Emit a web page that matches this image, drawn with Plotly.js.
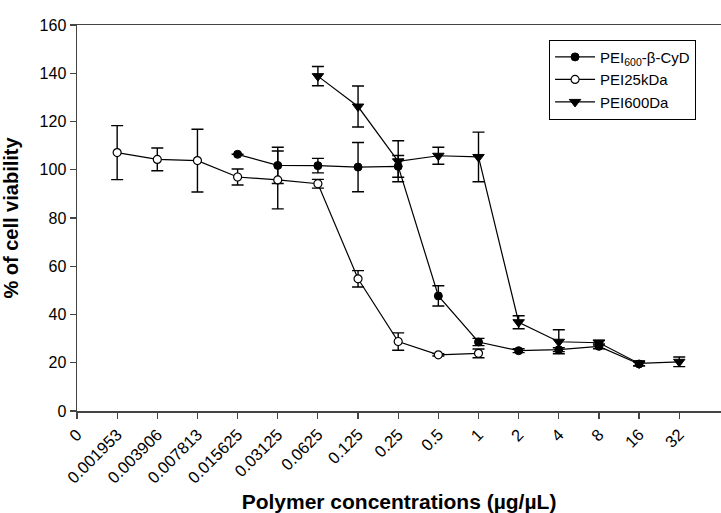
<!DOCTYPE html>
<html>
<head>
<meta charset="utf-8">
<script src="https://cdn.plot.ly/plotly-3.0.1.min.js"></script>
<style>html,body{margin:0;padding:0;background:#fff}#chart{width:721px;height:513px}</style>
</head>
<body>
<div id="chart"></div>
<script>
// Category tick labels (µg/µL)
var categories = ["0","0.001953","0.003906","0.007813","0.015625","0.03125","0.0625","0.125","0.25","0.5","1","2","4","8","16","32"];

// PEI600-β-CyD
var cydX   = ["0.015625","0.03125","0.0625","0.125","0.25","0.5","1","2","4","8","16"];
var cydY   = [106.4, 101.8, 101.7, 101.1, 101.4, 47.7, 28.6, 25.0, 25.4, 26.8, 19.5];
var cydErr = [0, 7.5, 3, 10.2, 4.5, 4.2, 1.5, 0.8, 0.8, 1, 0.8];

// PEI25kDa
var p25X   = ["0.001953","0.003906","0.007813","0.015625","0.03125","0.0625","0.125","0.25","0.5","1"];
var p25Y   = [107.1, 104.3, 103.8, 97.0, 95.8, 94.2, 54.8, 28.8, 23.3, 23.9];
var p25Err = [11.2, 4.7, 13.0, 3.3, 12.0, 1.8, 3.4, 3.6, 0.5, 1.8];

// PEI600Da
var p600X   = ["0.0625","0.125","0.25","0.5","1","2","4","8","16","32"];
var p600Y   = [138.8, 126.2, 103.5, 105.8, 105.3, 36.8, 28.7, 28.3, 19.7, 20.4];
var p600Err = [4.0, 8.5, 8.5, 3.5, 10.3, 2.7, 5.0, 1.0, 1.0, 2.0];

function idx(arr){ return arr.map(function(c){ return categories.indexOf(c); }); }

var lineStyle = {color:'#000', width:1.2};
var errStyle = function(a){ return {type:'data', array:a, visible:true, color:'#000', thickness:1.4, width:6}; };

var traces = [
  {name:'PEI<sub>600</sub>-β-CyD', x:idx(cydX), y:cydY, error_y:errStyle(cydErr), mode:'lines+markers', type:'scatter',
   line:lineStyle, marker:{symbol:'circle', size:8, color:'#000', line:{color:'#000', width:1}}},
  {name:'PEI25kDa', x:idx(p25X), y:p25Y, error_y:errStyle(p25Err), mode:'lines+markers', type:'scatter',
   line:lineStyle, marker:{symbol:'circle', size:8, color:'#fff', line:{color:'#000', width:1.2}}},
  {name:'PEI600Da', x:idx(p600X), y:p600Y, error_y:errStyle(p600Err), mode:'lines+markers', type:'scatter',
   line:lineStyle, marker:{symbol:'triangle-down', size:10, color:'#000', line:{color:'#000', width:1}}}
];

var tickIdx = categories.map(function(c,i){ return i; });

var layout = {
  width:721, height:513,
  margin:{l:77, r:0, t:25, b:102},
  paper_bgcolor:'#fff', plot_bgcolor:'#fff',
  font:{family:'Liberation Sans, Arial, sans-serif', color:'#000'},
  showlegend:true,
  legend:{x:0.733, y:0.962, xanchor:'left', yanchor:'top', bordercolor:'#000', borderwidth:1,
          bgcolor:'#fff', font:{size:15, color:'#000'}, tracegroupgap:0, itemwidth:40},
  xaxis:{range:[0,16.04], tickmode:'array', tickvals:tickIdx, ticktext:categories, tickangle:-45,
         showgrid:false, zeroline:false, showline:true, linecolor:'#444', linewidth:1.5, mirror:true,
         ticks:'outside', ticklen:6, tickcolor:'#444', tickwidth:1.2, tickfont:{size:16.5, color:'#000'},
         title:{text:'Polymer concentrations (µg/µL)', font:{size:21, color:'#000', weight:'bold'}, standoff:12}},
  yaxis:{range:[0,160], tickvals:[0,20,40,60,80,100,120,140,160], showgrid:false, zeroline:false,
         showline:true, linecolor:'#444', linewidth:1.5, ticks:'outside', ticklen:6, tickcolor:'#444', tickwidth:1.2,
         tickfont:{size:16, color:'#000'},
         title:{text:'% of cell viability', font:{size:20, color:'#000', weight:'bold'}, standoff:16}}
};

Plotly.newPlot('chart', traces, layout, {displayModeBar:false, staticPlot:true});
</script>
</body>
</html>
